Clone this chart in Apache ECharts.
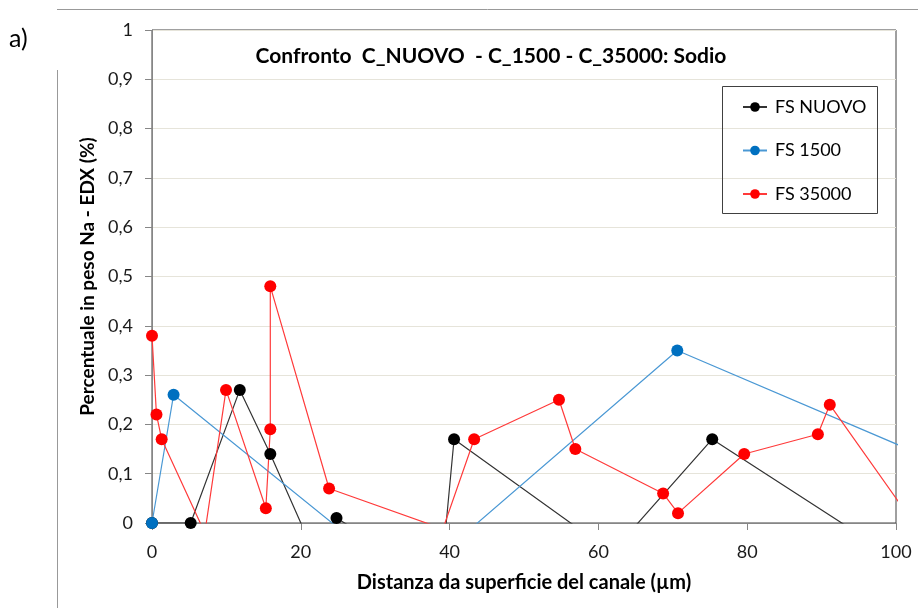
<!DOCTYPE html>
<html><head><meta charset="utf-8">
<script src="https://cdn.jsdelivr.net/npm/echarts@6/dist/echarts.min.js"></script>
<style>html,body{margin:0;padding:0;background:#fff}#c{width:918px;height:608px}</style>
</head><body><div id="c"></div>
<script>
// Data (values below 0 or above 100 lie outside the plotted range and are clipped, as in the original)
var nuovoX = [0, 5.2, 11.8, 15.9, 22.0, 24.8, 38.8, 40.6, 61.8, 75.3, 105];
var nuovoY = [0, 0, 0.27, 0.14, -0.068, 0.01, -0.12, 0.17, -0.06, 0.17, -0.12];
var s1500X = [0, 2.9, 34.3, 70.6, 110];
var s1500Y = [0, 0.26, -0.123, 0.35, 0.096];
var s35000X = [0, 0.6, 1.3, 7.1, 9.95, 15.3, 15.9, 15.9, 23.8, 39.1, 43.3, 54.7, 56.9, 68.7, 70.7, 79.6, 89.5, 91.1, 105];
var s35000Y = [0.38, 0.22, 0.17, -0.02, 0.27, 0.03, 0.19, 0.48, 0.07, -0.012, 0.17, 0.25, 0.15, 0.06, 0.02, 0.14, 0.18, 0.24, -0.056];
var seriesNames = ['FS NUOVO', 'FS 1500', 'FS 35000'];
var titleText = 'Confronto  C_NUOVO  - C_1500 - C_35000: Sodio';
var xName = 'Distanza da superficie del canale (\u00b5m)';
var yName = 'Percentuale in peso Na - EDX (%)';

function pairs(xs, ys){ return xs.map(function(x,i){ return [x, ys[i]]; }); }
var FONT = 'Lato, "Open Sans", sans-serif';
var chart = echarts.init(document.getElementById('c'), null, {renderer:'canvas'});
function mk(name, xs, ys, dot, line){
  return {name:name, type:'line', data:pairs(xs,ys), symbol:'circle', symbolSize:12,
    showAllSymbol:true, clip:true, animation:false,
    itemStyle:{color:dot}, lineStyle:{color:line, width:1.2}};
}
chart.setOption({
  animation:false,
  textStyle:{fontFamily:FONT},
  title:{text:titleText, left:486, top:41, textAlign:'center',
    textStyle:{fontFamily:FONT, fontSize:21, fontWeight:'bold', color:'#000'}},
  grid:{left:152, right:22, top:30, bottom:85, show:true, borderColor:'#404040', borderWidth:1, backgroundColor:'#fff'},
  legend:{orient:'vertical', left:737, top:92, itemGap:23.5, itemWidth:24, itemHeight:12,
    textStyle:{fontFamily:FONT, fontSize:18, lineHeight:20, color:'#000', padding:[0,0,0,3]},
    data:seriesNames},
  graphic:[
    {type:'rect', shape:{x:722.5, y:86.5, width:155, height:127}, style:{fill:'none', stroke:'#404040', lineWidth:1}, z:100},
    {type:'line', shape:{x1:57.5, y1:70, x2:57.5, y2:608}, style:{stroke:'#999', lineWidth:1}},
    {type:'line', shape:{x1:57, y1:9.5, x2:918, y2:9.5}, style:{stroke:'#999', lineWidth:1}},
    {type:'text', left:9, top:26, style:{text:'a)', font:'25px '+FONT, fill:'#000'}}
  ],
  xAxis:{type:'value', min:0, max:100, interval:20,
    name:xName, nameLocation:'middle', nameGap:50,
    nameTextStyle:{fontFamily:FONT, fontSize:20, fontWeight:'bold', color:'#000'},
    axisLine:{show:true, onZero:false, lineStyle:{color:'#868686', width:1}},
    axisTick:{show:true, length:7, inside:false, lineStyle:{color:'#868686'}},
    axisLabel:{margin:20, fontFamily:FONT, fontSize:18, color:'#1a1a1a'},
    splitLine:{show:false}},
  yAxis:{type:'value', min:0, max:1, interval:0.1,
    name:yName, nameLocation:'middle', nameGap:46, nameRotate:90,
    nameTextStyle:{fontFamily:FONT, fontSize:19, fontWeight:'bold', color:'#000'},
    axisLine:{show:true, lineStyle:{color:'#868686', width:1}},
    axisTick:{show:true, length:7, inside:false, lineStyle:{color:'#868686'}},
    axisLabel:{margin:19, fontFamily:FONT, fontSize:18, color:'#1a1a1a',
      formatter:function(v){ return (Math.round(v*10)/10).toString().replace('.', ','); }},
    splitLine:{show:true, lineStyle:{color:'#e6e4da', width:1}}},
  series:[
    mk(seriesNames[0], nuovoX, nuovoY, '#000000', '#333333'),
    mk(seriesNames[1], s1500X, s1500Y, '#0070C0', '#4a98d4'),
    mk(seriesNames[2], s35000X, s35000Y, '#FF0000', '#ff3a3a')
  ]
});
</script></body></html>
